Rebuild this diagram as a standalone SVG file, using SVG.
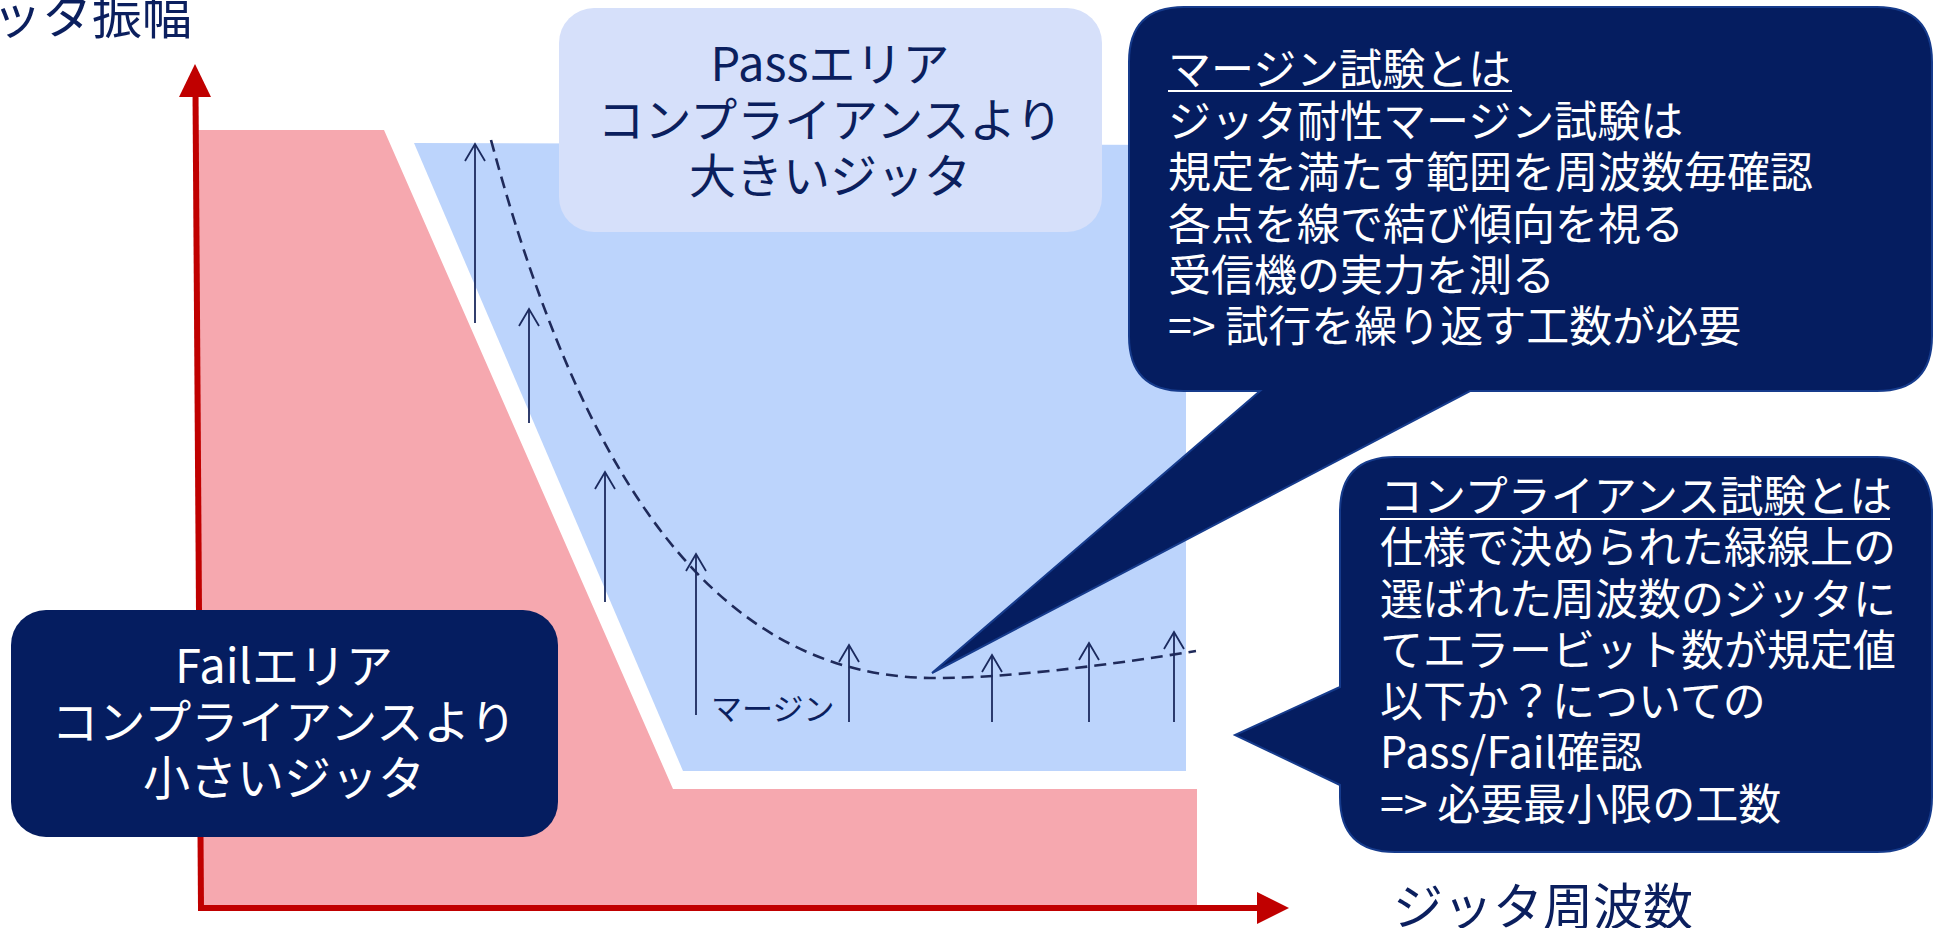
<svg xmlns="http://www.w3.org/2000/svg" width="1934" height="928" viewBox="0 0 1934 928">
  <style>
    .jp { font-family: "Noto Sans CJK JP", "Noto Sans", sans-serif; }
    .title { font-size: 50px; fill: #0B1F5E; }
    .boxtxt { font-size: 47px; text-anchor: middle; }
    .calltxt { font-size: 43px; fill: #FFFFFF; }
    .varrow { stroke: #1B2A5E; stroke-width: 1.8; fill: none; marker-end: url(#open); }
    .callout { fill: #051D60; stroke: #163B8C; stroke-width: 2; }
    .uline { stroke: #FFFFFF; stroke-width: 2.2; }
  </style>
  <defs>
    <marker id="open" markerUnits="userSpaceOnUse" viewBox="-20 -12 24 24" refX="0" refY="0" markerWidth="24" markerHeight="24" orient="auto" overflow="visible">
      <path d="M-17,-10 L0,0 L-17,10" fill="none" stroke="#1B2A5E" stroke-width="1.8"/>
    </marker>
  </defs>
  <rect width="1934" height="928" fill="#FFFFFF"/>

  <!-- regions -->
  <g id="fail-region">
    <polygon points="198,130 384,130 673,789 1197,789 1197,905 201,905" fill="#F6A8AF"/>
  </g>
  <g id="pass-region">
    <polygon points="414,143 1186,145 1186,771 683,771" fill="#BCD4FC"/>
  </g>

  <!-- axes -->
  <g id="axes">
    <line x1="201" y1="908" x2="195.5" y2="92" stroke="#C00000" stroke-width="6"/>
    <polygon points="195,64 179,97 211,97" fill="#C00000"/>
    <line x1="198" y1="908" x2="1260" y2="908" stroke="#C00000" stroke-width="6"/>
    <polygon points="1289,908 1257,892 1257,924" fill="#C00000"/>
    <text class="jp title" x="192" y="34" text-anchor="end">ジッタ振幅</text>
    <text class="jp title" x="1393" y="925">ジッタ周波数</text>
  </g>

  <!-- margin curve and arrows -->
  <g id="connectors">
    <path d="M491,140 C580,470 710,675 930,678 C1000,679 1110,665 1196,651" fill="none" stroke="#1F2A5A" stroke-width="2.6" stroke-dasharray="12,7"/>
    <line class="varrow" x1="475" y1="323" x2="475" y2="144"/>
    <line class="varrow" x1="529" y1="423" x2="529" y2="309"/>
    <line class="varrow" x1="605" y1="602" x2="605" y2="472"/>
    <line class="varrow" x1="696" y1="715" x2="696" y2="554"/>
    <line class="varrow" x1="849" y1="722" x2="849" y2="645"/>
    <line class="varrow" x1="992" y1="722" x2="992" y2="655"/>
    <line class="varrow" x1="1089" y1="722" x2="1089" y2="643"/>
    <line class="varrow" x1="1174" y1="722" x2="1174" y2="632"/>
  </g>
  <g id="margin-label">
    <text class="jp" x="711" y="720" font-size="31" fill="#0B1F5E">マージン</text>
  </g>

  <!-- Pass box -->
  <g id="pass-box">
    <rect x="559" y="8" width="543" height="224" rx="35" ry="35" fill="#D6E0FA"/>
    <text class="jp boxtxt" x="830" y="81" fill="#0B1F5E">Passエリア</text>
    <text class="jp boxtxt" x="830" y="137" fill="#0B1F5E">コンプライアンスより</text>
    <text class="jp boxtxt" x="830" y="193" fill="#0B1F5E">大きいジッタ</text>
  </g>

  <!-- Fail box -->
  <g id="fail-box">
    <rect x="11" y="610" width="547" height="227" rx="35" ry="35" fill="#051D60"/>
    <text class="jp boxtxt" x="284" y="683" fill="#FFFFFF">Failエリア</text>
    <text class="jp boxtxt" x="284" y="739" fill="#FFFFFF">コンプライアンスより</text>
    <text class="jp boxtxt" x="284" y="795" fill="#FFFFFF">小さいジッタ</text>
  </g>

  <!-- Callout: margin test -->
  <g id="callout-margin">
    <path class="callout" d="M1184,7 L1877,7 Q1932,7 1932,62 L1932,336 Q1932,391 1877,391 L1470,391 L932,673 L1260,391 L1184,391 Q1129,391 1129,336 L1129,62 Q1129,7 1184,7 Z"/>
    <text class="jp calltxt" x="1168" y="85">マージン試験とは</text>
    <line class="uline" x1="1168" y1="91" x2="1512" y2="91"/>
    <text class="jp calltxt" x="1168" y="137">ジッタ耐性マージン試験は</text>
    <text class="jp calltxt" x="1168" y="188">規定を満たす範囲を周波数毎確認</text>
    <text class="jp calltxt" x="1168" y="240">各点を線で結び傾向を視る</text>
    <text class="jp calltxt" x="1168" y="291">受信機の実力を測る</text>
    <text class="jp calltxt" x="1168" y="342">=&gt; 試行を繰り返す工数が必要</text>
  </g>

  <!-- Callout: compliance test -->
  <g id="callout-compliance">
    <path class="callout" d="M1395,457 L1877,457 Q1932,457 1932,512 L1932,797 Q1932,852 1877,852 L1395,852 Q1340,852 1340,797 L1340,785 L1235,735 L1340,687 L1340,512 Q1340,457 1395,457 Z"/>
    <text class="jp calltxt" x="1380" y="512">コンプライアンス試験とは</text>
    <line class="uline" x1="1380" y1="519" x2="1890" y2="519"/>
    <text class="jp calltxt" x="1380" y="563">仕様で決められた緑線上の</text>
    <text class="jp calltxt" x="1380" y="615">選ばれた周波数のジッタに</text>
    <text class="jp calltxt" x="1380" y="666">てエラービット数が規定値</text>
    <text class="jp calltxt" x="1380" y="717">以下か？についての</text>
    <text class="jp calltxt" x="1380" y="768">Pass/Fail確認</text>
    <text class="jp calltxt" x="1380" y="820">=&gt; 必要最小限の工数</text>
  </g>
</svg>
